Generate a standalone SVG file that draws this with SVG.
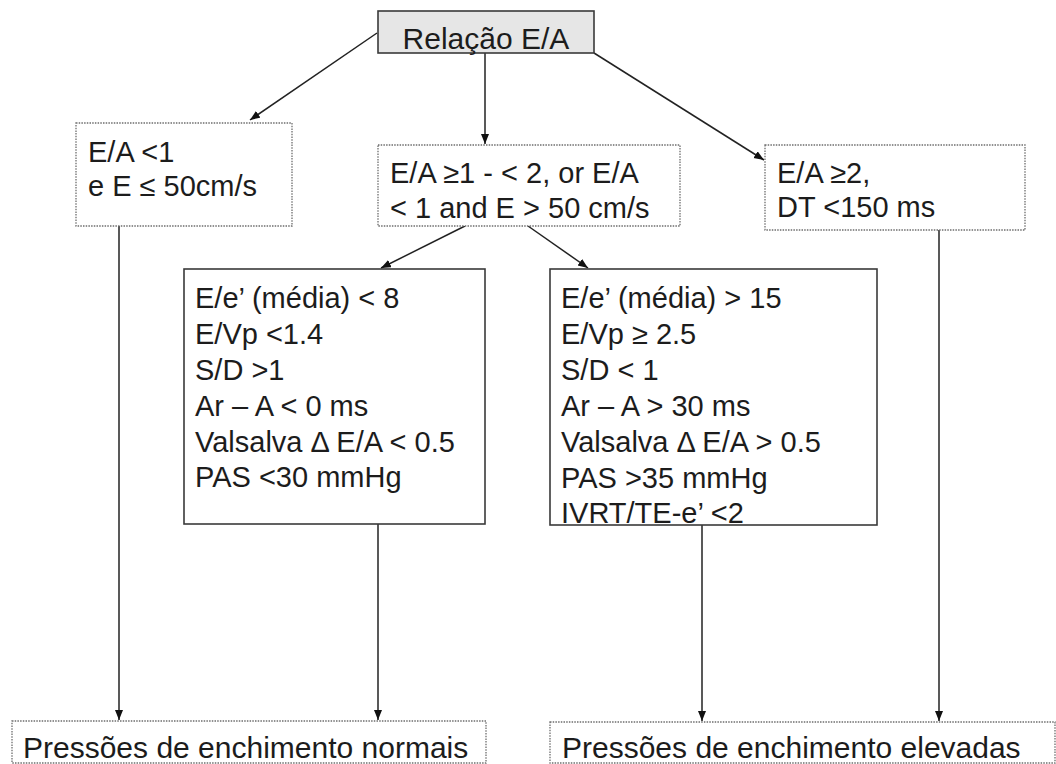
<svg xmlns="http://www.w3.org/2000/svg" width="1056" height="764" viewBox="0 0 1056 764">
<style>
  text { font-family: "Liberation Sans", Arial, Helvetica, sans-serif; font-size: 29px; fill: #1c1c1c; }
  .big { font-size: 30px; }
  .dotted { fill: #ffffff; stroke: #6e6e6e; stroke-width: 1.3; stroke-dasharray: 1.5 1.2; }
  .solid { fill: #ffffff; stroke: #3a3a3a; stroke-width: 1.6; }
  .top { fill: #e6e6e6; stroke: #3a3a3a; stroke-width: 1.6; }
  .conn line { stroke: #222222; stroke-width: 1.5; marker-end: url(#arr); }
</style>
<defs>
  <marker id="arr" markerUnits="userSpaceOnUse" markerWidth="12" markerHeight="10" refX="10" refY="4" orient="auto">
    <path d="M0,0 L10,4 L0,8 z" fill="#111111"/>
  </marker>
</defs>
<rect width="1056" height="764" fill="#ffffff"/>

<g id="connectors" class="conn">
  <line x1="377" y1="33" x2="250" y2="120"/>
  <line x1="485" y1="53" x2="485" y2="144"/>
  <line x1="594" y1="53" x2="764" y2="160"/>
  <line x1="465" y1="226" x2="381" y2="268"/>
  <line x1="528" y1="226" x2="588" y2="268"/>
  <line x1="119" y1="226" x2="119" y2="720"/>
  <line x1="378" y1="524" x2="378" y2="720"/>
  <line x1="702" y1="525" x2="702" y2="721"/>
  <line x1="939" y1="230" x2="939" y2="721"/>
</g>

<g id="relacao">
  <rect class="top" x="378" y="11" width="216" height="42"/>
  <text class="big" x="486" y="49" text-anchor="middle">Relação E/A</text>
</g>

<g id="ea-menor1">
  <rect class="dotted" x="76" y="123" width="216" height="103"/>
  <text x="88" y="162">E/A &lt;1</text>
  <text x="88" y="196">e E ≤ 50cm/s</text>
</g>

<g id="ea-intermedio">
  <rect class="dotted" x="378" y="145" width="302" height="81"/>
  <text x="390" y="183">E/A ≥1 - &lt; 2, or E/A</text>
  <text x="390" y="218">&lt; 1 and E &gt; 50 cm/s</text>
</g>

<g id="ea-maior2">
  <rect class="dotted" x="765" y="145" width="260" height="85"/>
  <text x="777" y="183">E/A ≥2,</text>
  <text x="777" y="217">DT &lt;150 ms</text>
</g>

<g id="criterios-normais">
  <rect class="solid" x="184" y="269" width="301" height="255"/>
  <text x="195" y="308">E/e’ (média) &lt; 8</text>
  <text x="195" y="344">E/Vp &lt;1.4</text>
  <text x="195" y="380">S/D &gt;1</text>
  <text x="195" y="416">Ar – A &lt; 0 ms</text>
  <text x="195" y="452">Valsalva Δ E/A &lt; 0.5</text>
  <text x="195" y="487">PAS &lt;30 mmHg</text>
</g>

<g id="criterios-elevadas">
  <text x="561" y="308">E/e’ (média) &gt; 15</text>
  <text x="561" y="344">E/Vp ≥ 2.5</text>
  <text x="561" y="380">S/D &lt; 1</text>
  <text x="561" y="416">Ar – A &gt; 30 ms</text>
  <text x="561" y="452">Valsalva Δ E/A &gt; 0.5</text>
  <text x="561" y="488">PAS &gt;35 mmHg</text>
  <text x="561" y="523">IVRT/TE-e’ &lt;2</text>
  <rect class="solid" x="550" y="269" width="327" height="256" fill="none" style="fill:none"/>
</g>

<g id="pressoes-normais">
  <rect class="dotted" x="12" y="721" width="474" height="42"/>
  <text class="big" x="23" y="758">Pressões de enchimento normais</text>
</g>

<g id="pressoes-elevadas">
  <rect class="dotted" x="550" y="722" width="505" height="41"/>
  <text class="big" x="562" y="758">Pressões de enchimento elevadas</text>
</g>
</svg>
